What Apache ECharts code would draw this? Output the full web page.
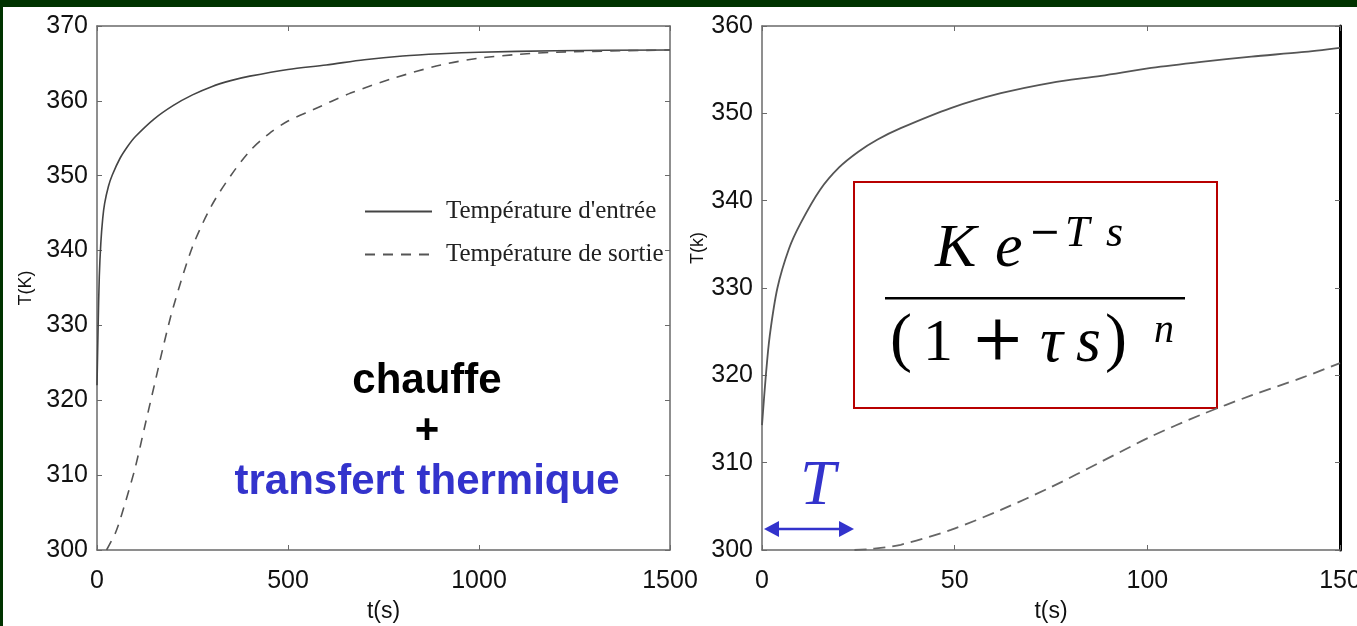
<!DOCTYPE html>
<html><head><meta charset="utf-8">
<script src="https://cdn.jsdelivr.net/npm/echarts@6/dist/echarts.min.js"></script>
<style>html,body{margin:0;padding:0;background:#fff}#c{width:1357px;height:626px}</style>
</head><body><div id="c"></div>
<script>
// ---- Data ----
const leftTicksX = [0, 500, 1000, 1500];
const leftTicksY = [300, 310, 320, 330, 340, 350, 360, 370];
const rightTicksX = [0, 50, 100, 150];
const rightTicksY = [300, 310, 320, 330, 340, 350, 360];

const inletNameL = "Température d'entrée";
const outletNameL = "Température de sortie";

const leftInletTime = [0, 3, 6, 10, 15, 20, 30, 40, 60, 80, 100, 150, 200, 250, 300, 350, 400, 500, 600, 700, 800, 900, 1000, 1200, 1500];
const leftInletTemp = [322, 330, 336.5, 341, 344.3, 346.3, 348.6, 350.1, 352.3, 353.9, 355.2, 357.6, 359.4, 360.8, 361.9, 362.7, 363.3, 364.2, 364.8, 365.5, 366.0, 366.3, 366.5, 366.7, 366.8];

const leftOutletTime = [25, 50, 75, 100, 125, 150, 175, 200, 250, 300, 350, 400, 450, 500, 565, 662, 775, 900, 1000, 1100, 1200, 1500];
const leftOutletTemp = [300, 302.5, 306.5, 311, 316.5, 322, 327.5, 332.5, 340.5, 346, 350, 353.3, 355.6, 357.3, 358.8, 361, 363, 364.8, 365.7, 366.2, 366.5, 366.8];

const rightInletTime = [0, 1, 2, 4, 7, 10, 15, 20, 25, 30, 36, 49, 62, 75, 88, 101, 114, 127, 140, 150];
const rightInletTemp = [314.3, 320, 324.5, 330, 334.5, 337.4, 341.2, 343.8, 345.6, 347, 348.3, 350.6, 352.3, 353.5, 354.3, 355.2, 355.9, 356.5, 357, 357.5];

const rightOutletTime = [24, 28, 36, 49, 62, 75, 88, 101, 114, 127, 140, 150];
const rightOutletTemp = [300, 300.1, 300.6, 302.3, 304.6, 307.2, 310.1, 313, 315.5, 317.7, 319.7, 321.4];

// ---- Chart ----
const zip = (a, b) => a.map((v, i) => [v, b[i]]);
const tickFont = "'Liberation Sans', Arial, sans-serif";
const frame = '#6a6a6a';
const plain = v => String(v);

function axisX(grid, ticks, pos, showLabel, name) {
  return {
    type: 'value', gridIndex: grid, position: pos,
    min: ticks[0], max: ticks[ticks.length - 1], interval: ticks[1] - ticks[0],
    axisLine: {show: true, onZero: false, lineStyle: {color: frame, width: 1.5}},
    axisTick: {show: true, inside: true, length: 5, lineStyle: {color: frame}},
    axisLabel: {show: showLabel, color: '#111', fontFamily: tickFont, fontSize: 25, margin: 19, formatter: plain},
    splitLine: {show: false},
    name: name || '', nameLocation: 'middle', nameGap: 50,
    nameTextStyle: {color: '#111', fontFamily: tickFont, fontSize: 23}
  };
}
function axisY(grid, ticks, pos, showLabel, name, extra) {
  const o = {
    type: 'value', gridIndex: grid, position: pos,
    min: ticks[0], max: ticks[ticks.length - 1], interval: ticks[1] - ticks[0],
    axisLine: {show: true, onZero: false, lineStyle: {color: frame, width: 1.5}},
    axisTick: {show: true, inside: true, length: 5, lineStyle: {color: frame}},
    axisLabel: {show: showLabel, color: '#111', fontFamily: tickFont, fontSize: 25, margin: 9, formatter: plain},
    splitLine: {show: false},
    name: name || '', nameLocation: 'middle', nameRotate: 90,
    nameTextStyle: {color: '#111', fontFamily: tickFont, fontSize: 18}
  };
  return Object.assign(o, extra || {});
}

const chart = echarts.init(document.getElementById('c'), null, {renderer: 'canvas'});
const blue = '#3333cc';
const serif = "'Liberation Serif', 'DejaVu Serif', serif";
const dserif = "'DejaVu Serif', 'Liberation Serif', serif";
const sans = "'Liberation Sans', Arial, sans-serif";
const txt = (x, y, text, font, fill) => ({type: 'text', x: x, y: y, style: {text: text, font: font, fill: fill || '#000', textAlign: 'left', textVerticalAlign: 'middle'}});

const option = {
  animation: false,
  backgroundColor: '#ffffff',
  grid: [
    {left: 97, top: 26, width: 573, height: 524, outerBoundsMode: 'none', containLabel: false},
    {left: 762, top: 26, width: 578, height: 524, outerBoundsMode: 'none', containLabel: false}
  ],
  xAxis: [
    axisX(0, leftTicksX, 'bottom', true, 't(s)'),
    axisX(0, leftTicksX, 'top', false),
    axisX(1, rightTicksX, 'bottom', true, 't(s)'),
    axisX(1, rightTicksX, 'top', false)
  ],
  yAxis: [
    axisY(0, leftTicksY, 'left', true, 'T(K)', {nameGap: 62}),
    axisY(0, leftTicksY, 'right', false),
    axisY(1, rightTicksY, 'left', true, 'T(k)', {nameGap: 52,
      nameTextStyle: {color: '#111', fontFamily: tickFont, fontSize: 18, padding: [0, 0, 0, 80]}}),
    axisY(1, rightTicksY, 'right', false, '', {axisLine: {show: true, onZero: false, lineStyle: {color: '#000', width: 3}}})
  ],
  legend: {
    data: [inletNameL, outletNameL],
    orient: 'vertical', left: 359, top: 194,
    itemWidth: 67, itemHeight: 14, itemGap: 18,
    itemStyle: {color: 'transparent', borderColor: 'transparent', borderWidth: 0},
    textStyle: {fontFamily: serif, fontSize: 25, color: '#222', padding: [0, 0, 0, 9]}
  },
  series: [
    {name: inletNameL, type: 'line', xAxisIndex: 0, yAxisIndex: 0, data: zip(leftInletTime, leftInletTemp),
     symbol: 'none', smooth: 0.3, lineStyle: {color: '#444', width: 1.6, type: 'solid'}, itemStyle: {color: '#444'}},
    {name: outletNameL, type: 'line', xAxisIndex: 0, yAxisIndex: 0, data: zip(leftOutletTime, leftOutletTemp),
     symbol: 'none', smooth: 0.3, lineStyle: {color: '#555', width: 1.6, type: [10, 8]}, itemStyle: {color: '#555'}},
    {name: 'Entrée (détail)', type: 'line', xAxisIndex: 2, yAxisIndex: 2, data: zip(rightInletTime, rightInletTemp),
     symbol: 'none', smooth: 0.3, lineStyle: {color: '#555', width: 1.8, type: 'solid'}},
    {name: 'Sortie (détail)', type: 'line', xAxisIndex: 2, yAxisIndex: 2, data: zip(rightOutletTime, rightOutletTemp),
     symbol: 'none', smooth: 0.3, lineStyle: {color: '#666', width: 1.8, type: [12, 7]}}
  ],
  graphic: [
    // slide frame
    {type: 'rect', shape: {x: 0, y: 0, width: 1357, height: 7}, style: {fill: '#003300'}, silent: true},
    {type: 'rect', shape: {x: 0, y: 0, width: 3, height: 626}, style: {fill: '#003300'}, silent: true},
    // annotation text, left chart
    {type: 'text', x: 427, y: 381, style: {text: 'chauffe', font: "bold 42px " + sans, fill: '#000', textAlign: 'center', textVerticalAlign: 'middle'}},
    {type: 'text', x: 427, y: 431, style: {text: '+', font: "bold 42px " + sans, fill: '#000', textAlign: 'center', textVerticalAlign: 'middle'}},
    {type: 'text', x: 427, y: 482, style: {text: 'transfert thermique', font: "bold 42px " + sans, fill: blue, textAlign: 'center', textVerticalAlign: 'middle'}},
    // formula box
    {type: 'rect', shape: {x: 854, y: 182, width: 363, height: 226}, style: {fill: '#fff', stroke: '#b80000', lineWidth: 2}},
    txt(935, 250, 'K', "italic 62px " + serif),
    txt(995, 250, 'e', "italic 62px " + serif),
    txt(1029, 234, '−', "38px " + dserif),
    txt(1065, 234, 'T', "italic 44px " + serif),
    txt(1106, 234, 's', "italic 44px " + serif),
    {type: 'rect', shape: {x: 885, y: 297, width: 300, height: 2.5}, style: {fill: '#000'}},
    txt(890, 342, '(', "66px " + serif),
    txt(923, 344, '1', "60px " + serif),
    txt(971, 342, '+', "64px " + dserif),
    txt(1040, 344, 'τ', "italic 64px " + serif),
    txt(1076, 344, 's', "italic 64px " + serif),
    txt(1105, 342, ')', "66px " + serif),
    txt(1154, 331, 'n', "italic 40px " + serif),
    // delay annotation
    txt(800, 487, 'T', "italic 64px " + serif, blue),
    {type: 'line', shape: {x1: 776, y1: 529, x2: 842, y2: 529}, style: {stroke: blue, lineWidth: 2.5}},
    {type: 'polygon', shape: {points: [[764, 529], [779, 521], [779, 537]]}, style: {fill: blue}},
    {type: 'polygon', shape: {points: [[854, 529], [839, 521], [839, 537]]}, style: {fill: blue}}
  ]
};
chart.setOption(option);
</script>
</body></html>
